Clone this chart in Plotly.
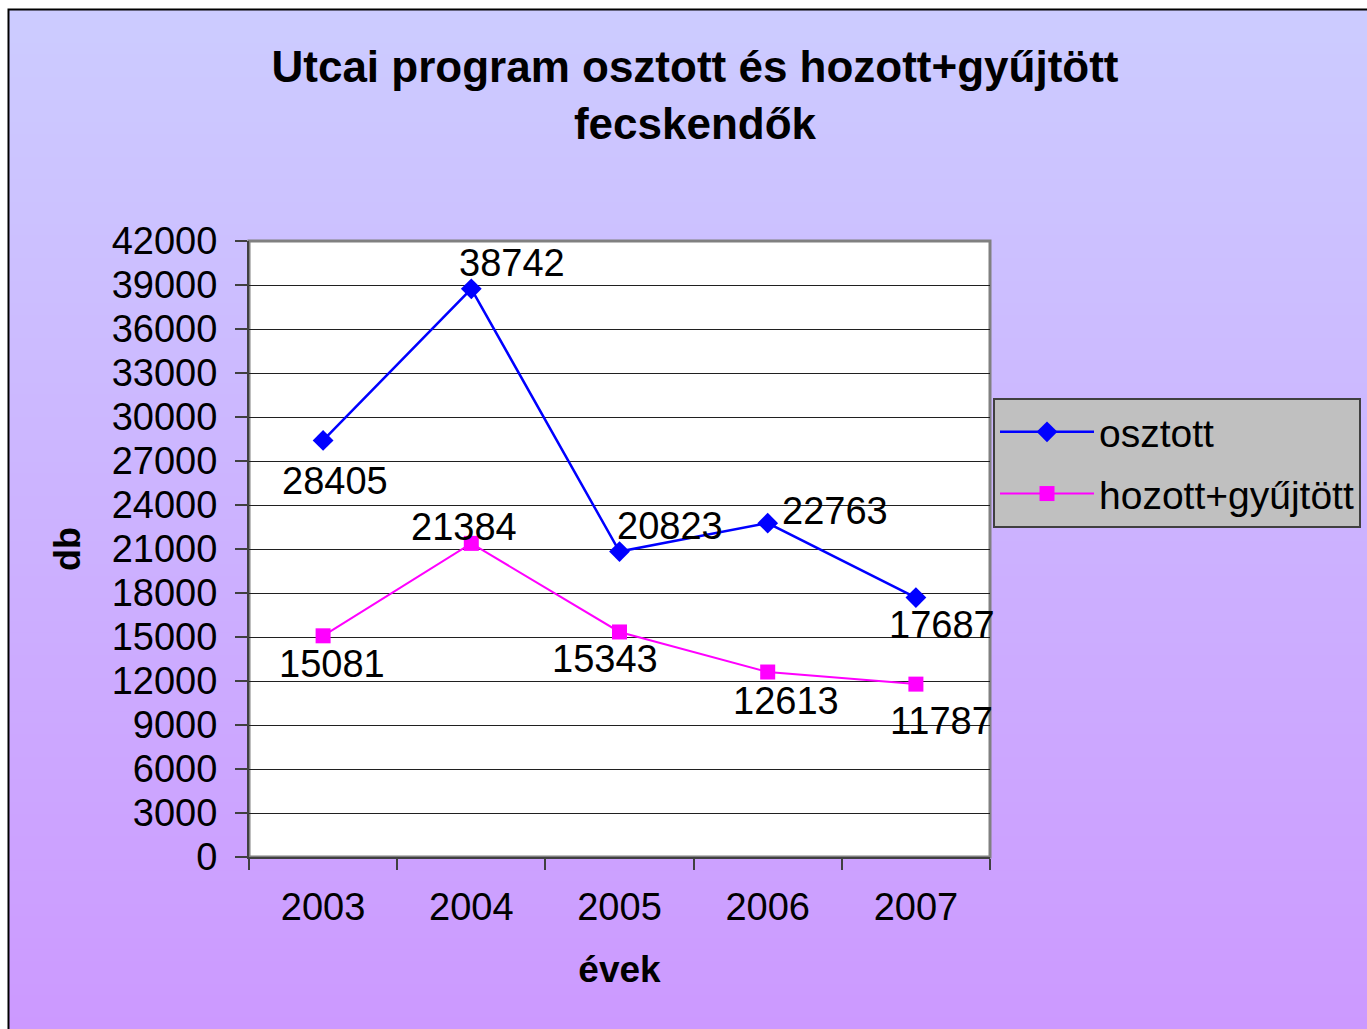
import plotly.graph_objects as go

# ---- data ----
years = ["2003", "2004", "2005", "2006", "2007"]
osztott = [28405, 38742, 20823, 22763, 17687]
hozott = [15081, 21384, 15343, 12613, 11787]
y_tickvals = list(range(0, 42001, 3000))

# ---- layout geometry (pixels) ----
W, H = 1367, 1029
L, R, T, B = 249, 990, 241, 857


def px(x):
    return (x - L) / (R - L)


def py(y):
    return (B - y) / (B - T)


FONT = "Liberation Sans, Arial, sans-serif"

# label offsets (pixels) for data labels
osz_off = [(12, -41), (41, 26), (50, 26), (67, 12), (26, -27)]
hoz_off = [(9, -28), (-7, 16), (-15, -27), (18, -29), (26, -37)]

fig = go.Figure()
fig.add_trace(go.Scatter(
    x=years, y=osztott, name="osztott", mode="lines+markers",
    line=dict(color="#0000FF", width=2.5),
    marker=dict(symbol="diamond", size=16, color="#0000FF"),
    legendgroup="a", hoverinfo="skip"))
fig.add_trace(go.Scatter(
    x=years, y=hozott, name="hozott+gyűjtött", mode="lines+markers",
    line=dict(color="#FF00FF", width=2),
    marker=dict(symbol="square", size=15, color="#FF00FF"),
    legendgroup="b", hoverinfo="skip"))

annotations = []
for series, offs in ((osztott, osz_off), (hozott, hoz_off)):
    for i, (v, (dx, dy)) in enumerate(zip(series, offs)):
        annotations.append(dict(
            x=i, y=v, xref="x", yref="y", text=str(v), showarrow=False,
            xshift=dx, yshift=dy, font=dict(family=FONT, size=38, color="black")))

# ---- background gradient ----
shapes = []
top_c = (204, 204, 255)
bot_c = (204, 153, 255)
y0, y1 = 9, 1029
N = 90
for i in range(N):
    a = y0 + (y1 - y0) * i / N
    b = y0 + (y1 - y0) * (i + 1) / N
    t = (i + 0.5) / N
    c = tuple(round(top_c[k] + (bot_c[k] - top_c[k]) * t) for k in range(3))
    col = "rgb(%d,%d,%d)" % c
    shapes.append(dict(type="rect", xref="paper", yref="paper",
                       x0=px(8), x1=px(1400), y0=py(b + 1), y1=py(a),
                       fillcolor=col, line=dict(width=0), layer="below"))
# outer border
shapes.append(dict(type="rect", xref="paper", yref="paper",
                   x0=px(8.5), x1=px(1420), y0=py(1100), y1=py(9.5),
                   fillcolor="rgba(0,0,0,0)", line=dict(color="black", width=2),
                   layer="below"))
# plot area
shapes.append(dict(type="rect", xref="paper", yref="paper",
                   x0=0, x1=1, y0=0, y1=1,
                   fillcolor="white", line=dict(color="#808080", width=3),
                   layer="below"))

fig.update_layout(
    width=W, height=H,
    margin=dict(l=L, r=W - R, t=T, b=H - B, autoexpand=False),
    paper_bgcolor="white",
    plot_bgcolor="white",
    font=dict(family=FONT, size=38, color="black"),
    title=dict(
        text="<b>Utcai program osztott és hozott+gyűjtött<br>fecskendők</b>",
        x=695 / W, xref="container", xanchor="center",
        y=1 - 82 / H, yref="container", yanchor="middle",
        font=dict(family=FONT, size=44, color="black")),
    xaxis=dict(
        type="category", range=[-0.5, 4.5], tickson="boundaries",
        ticks="outside", ticklen=11, tickwidth=1.5, tickcolor="#404040",
        showline=True, linecolor="#404040", linewidth=2,
        showgrid=False, zeroline=False, ticklabelstandoff=15,
        tickfont=dict(size=38),
        title=dict(text="<b>évek</b>", standoff=30,
                   font=dict(size=37))),
    yaxis=dict(
        range=[0, 42000], tickvals=y_tickvals, tickformat="d",
        ticks="outside", ticklen=12, tickwidth=1.5, tickcolor="#404040",
        showline=True, linecolor="#404040", linewidth=2,
        showgrid=True, gridcolor="#202020", gridwidth=1, zeroline=False,
        ticklabelstandoff=10, tickfont=dict(size=38),
        title=dict(text="<b>db</b>", standoff=20, font=dict(size=36))),
    legend=dict(
        x=px(993), y=py(398), xanchor="left", yanchor="top",
        bgcolor="#C0C0C0", bordercolor="#404040", borderwidth=2,
        font=dict(size=39), traceorder="grouped", tracegroupgap=8,
        itemwidth=94),
    shapes=shapes,
    annotations=annotations,
    hovermode=False,
)

fig.write_html("out.html", config={"displayModeBar": False},
               post_script="document.body.style.margin='0';")
